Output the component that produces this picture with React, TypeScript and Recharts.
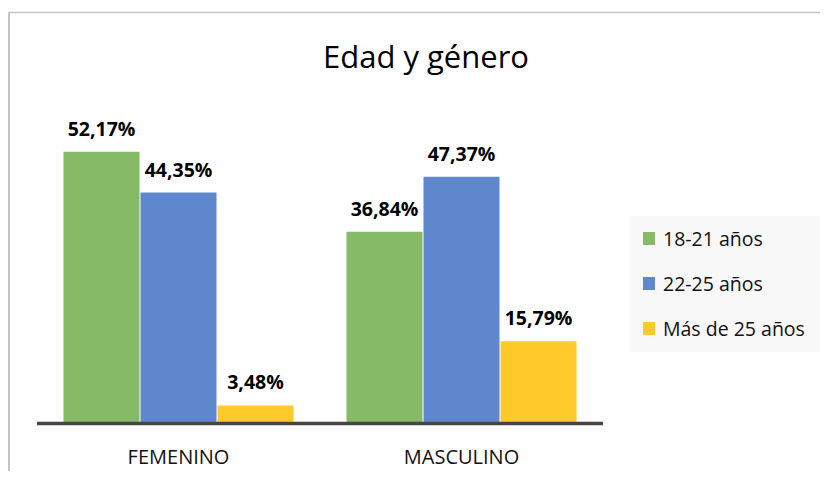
import React from 'react';
import { BarChart, Bar, XAxis, YAxis, Legend, LabelList } from 'recharts';

const categories = ['FEMENINO', 'MASCULINO'];
const seriesNames = ['18-21 años', '22-25 años', 'Más de 25 años'];
const values18to21 = [52.17, 36.84];
const values22to25 = [44.35, 47.37];
const valuesOver25 = [3.48, 15.79];
const seriesColors = ['#86BA66', '#5F87CD', '#FFC929'];
const title = 'Edad y género';

const seriesValues = [values18to21, values22to25, valuesOver25];
const seriesKeys = ['s0', 's1', 's2'];

const data = categories.map((c, i) => {
  const row: Record<string, string | number> = { category: c };
  seriesKeys.forEach((k, j) => {
    row[k] = seriesValues[j][i];
  });
  return row;
});

const FONT = '"Open Sans", "Noto Sans", sans-serif';

const fmt = (v: any) => `${Number(v).toFixed(2).replace('.', ',')}%`;

const LegendContent = (props: any) => {
  const payload = props.payload || [];
  return (
    <div style={{ width: 198, height: 136, background: '#f8f8f8', fontFamily: FONT }}>
      {payload.map((p: any, i: number) => (
        <div
          key={i}
          style={{ height: 45, display: 'flex', alignItems: 'center', paddingLeft: 13 }}
        >
          <div style={{ width: 12, height: 13, background: p.color, marginRight: 8 }} />
          <span style={{ fontSize: 19.5, color: '#111', whiteSpace: 'nowrap' }}>{p.value}</span>
        </div>
      ))}
    </div>
  );
};

export default function App() {
  return (
    <div style={{ position: 'relative', width: 828, height: 479, margin: -8, background: '#fff' }}>
      <BarChart
        width={828}
        height={479}
        data={data}
        margin={{ top: 111, right: 225, bottom: 25.5, left: 37 }}
        barCategoryGap={26.5}
        barGap={1}
      >
        <XAxis
          dataKey="category"
          height={30}
          tickLine={false}
          tickSize={0}
          tickMargin={26}
          axisLine={{ stroke: '#454545', strokeWidth: 3.5 }}
          tick={{ fill: '#111', fontSize: 20, fontFamily: FONT }}
        />
        <YAxis hide domain={[0, 60]} />
        <Legend
          layout="horizontal"
          verticalAlign="middle"
          align="center"
          content={LegendContent}
          wrapperStyle={{ left: 630, top: 216, width: 198, height: 136 }}
        />
        {seriesKeys.map((k, j) => (
          <Bar key={k} dataKey={k} name={seriesNames[j]} fill={seriesColors[j]} isAnimationActive={false}>
            <LabelList
              dataKey={k}
              position="top"
              offset={16}
              formatter={fmt}
              style={{ fontFamily: FONT, fontSize: 19.5, fontWeight: 700, fill: '#000' }}
            />
          </Bar>
        ))}
      </BarChart>
      <svg
        width={828}
        height={479}
        style={{ position: 'absolute', left: 0, top: 0, pointerEvents: 'none' }}
      >
        <line x1={8} y1={12.5} x2={828} y2={12.5} stroke="#c3c3c3" strokeWidth={1.5} />
        <line x1={9} y1={12} x2={9} y2={479} stroke="#c3c3c3" strokeWidth={2} />
        <text x={426} y={68} textAnchor="middle" fontFamily={FONT} fontSize={31} fill="#000">
          {title}
        </text>
      </svg>
    </div>
  );
}
